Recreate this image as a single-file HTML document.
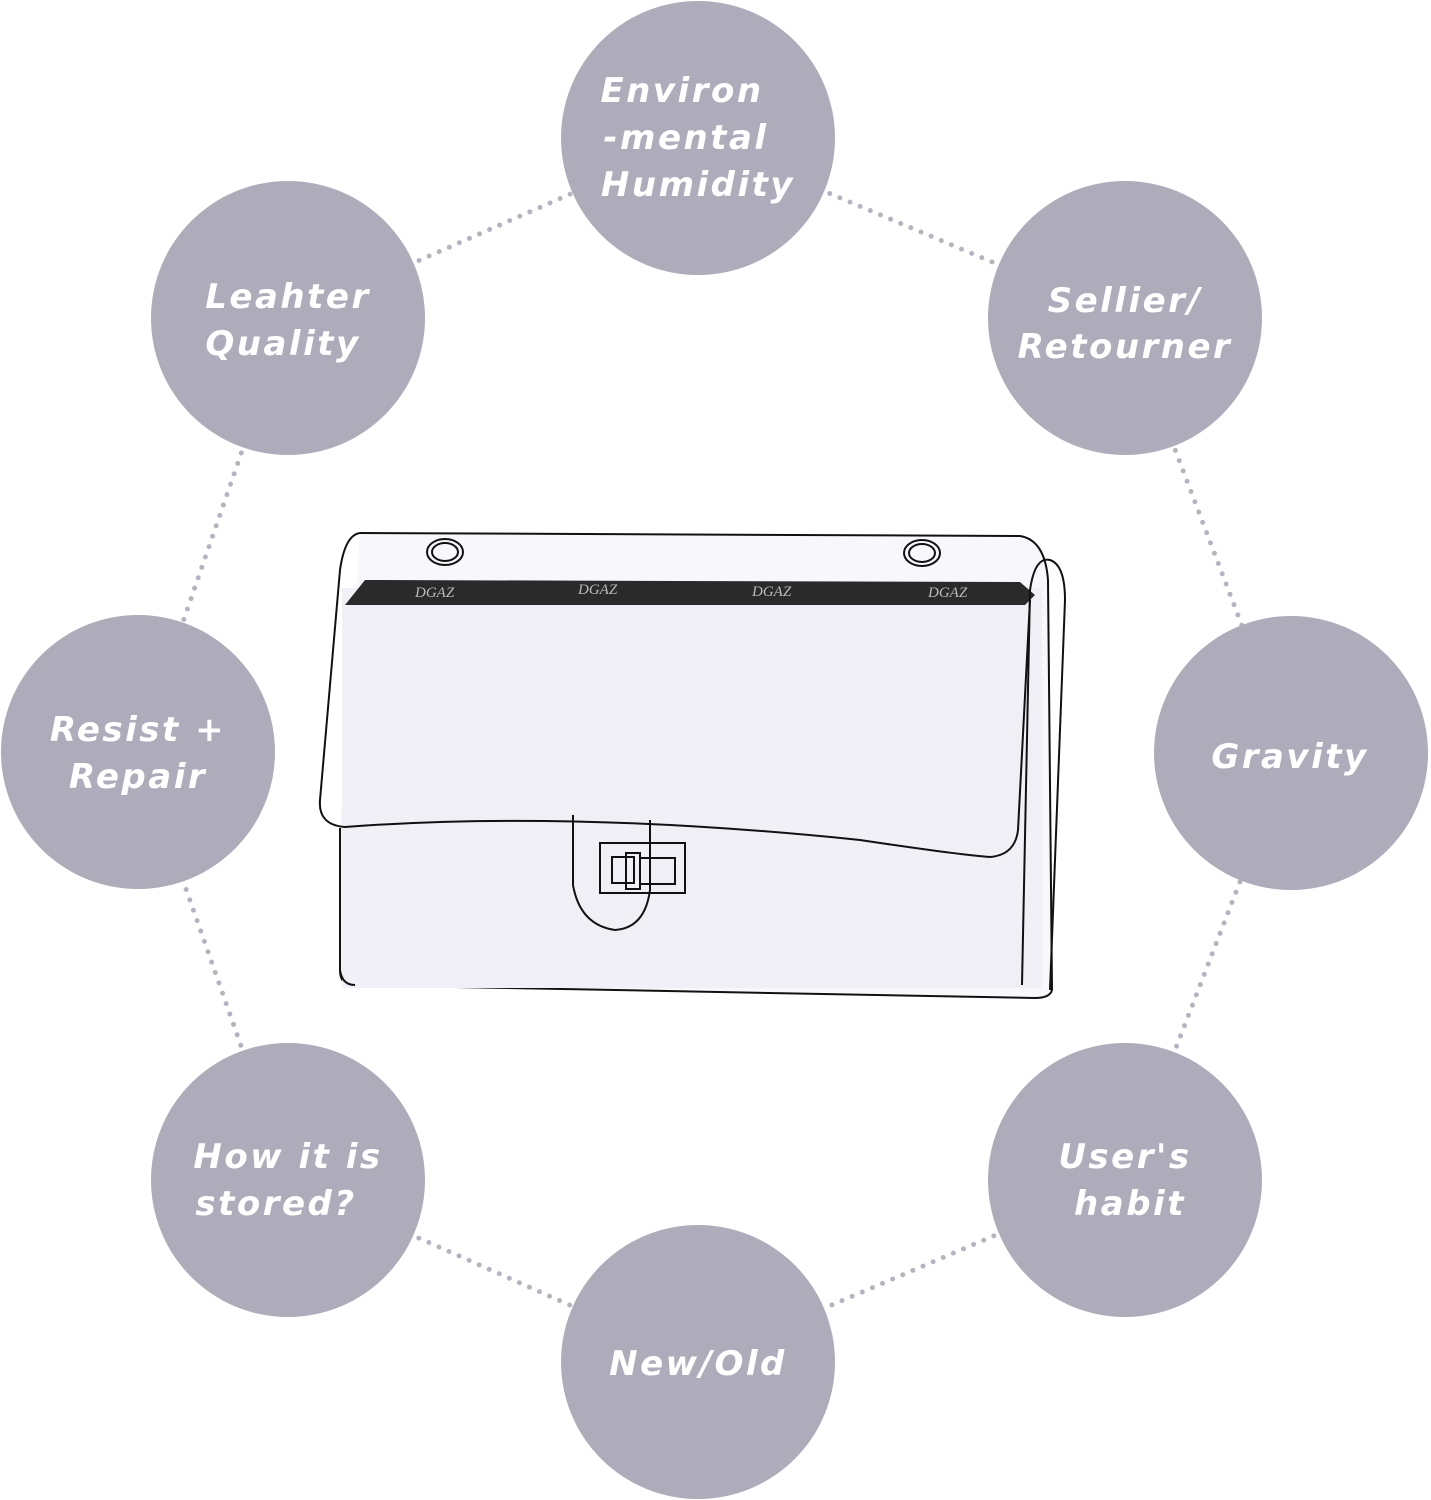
<!DOCTYPE html>
<html><head><meta charset="utf-8"><style>
html,body{margin:0;padding:0;background:#fff;}
svg{display:block}
.t{font-family:"DejaVu Sans","Liberation Sans",sans-serif;font-weight:bold;font-style:italic;font-size:34px;letter-spacing:2.5px;fill:#fff;text-anchor:middle}
</style></head><body>
<svg width="1431" height="1500" viewBox="0 0 1431 1500" xmlns="http://www.w3.org/2000/svg">
<g stroke="#b4b3bf" stroke-width="5" stroke-linecap="round" stroke-dasharray="0 11" fill="none">
<path d="M698 138 L1125 318 L1290 752 L1125 1180 L698 1362 L288 1180 L138 752 L288 318 Z"/>
</g>
<g fill="#aeacba">
<circle cx="698" cy="138" r="137"/>
<circle cx="1125" cy="318" r="137"/>
<circle cx="1291" cy="753" r="137"/>
<circle cx="1125" cy="1180" r="137"/>
<circle cx="698" cy="1362" r="137"/>
<circle cx="288" cy="1180" r="137"/>
<circle cx="138" cy="752" r="137"/>
<circle cx="288" cy="318" r="137"/>
</g>
<g class="t">
<text x="682" y="102">Environ</text>
<text x="686" y="149">-mental</text>
<text x="698" y="196">Humidity</text>
<text x="1125" y="312">Sellier/</text>
<text x="1125" y="358">Retourner</text>
<text x="1290" y="768">Gravity</text>
<text x="1125" y="1168">User's</text>
<text x="1130" y="1215">habit</text>
<text x="698" y="1375">New/Old</text>
<text x="288" y="1168">How it is</text>
<text x="276" y="1215">stored?</text>
<text x="138" y="741">Resist +</text>
<text x="138" y="788">Repair</text>
<text x="288" y="308">Leahter</text>
<text x="283" y="355">Quality</text>
</g>
<g stroke="#111" stroke-width="2" fill="none">
<path d="M360 533 L1020 536 Q1045 540 1048 580 L1052 990 Q1050 998 1035 998 L350 985 Q340 983 340 970 L340 830" fill="#f8f8fc"/>
<rect x="342" y="588" width="700" height="400" fill="#f1f0f7" stroke="none"/>
<path d="M365 580 L1020 582 L1035 595 L1025 605 L345 605 Z" fill="#2a2a2a" stroke="none"/>
<path d="M360 533 Q345 535 340 570 L320 800 Q318 825 345 827 Q570 810 860 840 Q960 855 990 857 Q1015 855 1018 830 L1030 600"/>
<path d="M340 828 L340 970 Q342 985 355 985"/>
<path d="M1022 985 L1030 590 Q1035 556 1050 560 Q1065 565 1065 600 L1050 990"/>
<path d="M573 815 L573 885 Q580 925 615 930 Q645 928 650 890 L650 820"/>
<rect x="600" y="843" width="85" height="50"/>
<rect x="612" y="857" width="22" height="26"/>
<rect x="626" y="853" width="14" height="36"/>
<path d="M640 858 L675 858 L675 884 L640 884"/>
<ellipse cx="445" cy="552" rx="18" ry="13"/>
<ellipse cx="445" cy="552" rx="13" ry="9"/>
<ellipse cx="922" cy="553" rx="18" ry="13"/>
<ellipse cx="922" cy="553" rx="13" ry="9"/>
</g>
<g font-family="Liberation Serif,serif" font-style="italic" font-size="15" fill="#bbb">
<text x="415" y="597">DGAZ</text><text x="578" y="594">DGAZ</text><text x="752" y="596">DGAZ</text><text x="928" y="597">DGAZ</text>
</g>
</svg>
</body></html>
